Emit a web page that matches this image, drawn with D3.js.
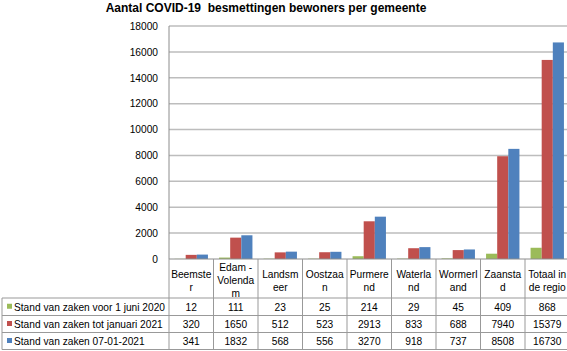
<!DOCTYPE html>
<html>
<head>
<meta charset="utf-8">
<script src="https://cdn.jsdelivr.net/npm/d3@7"></script>
<style>
  body { margin: 0; background: #fff; }
  text { font-family: "Liberation Sans", Arial, sans-serif; }
</style>
</head>
<body>
<svg id="chart"></svg>
<script>
const categories = ["Beemster", "Edam-Volendam", "Landsmeer", "Oostzaan", "Purmerend", "Waterland", "Wormerland", "Zaanstad", "Totaal in de regio"];
const categoryLines = [["Beemste", "r"], ["Edam -", "Volenda", "m"], ["Landsm", "eer"], ["Oostzaa", "n"], ["Purmere", "nd"], ["Waterla", "nd"], ["Wormerl", "and"], ["Zaansta", "d"], ["Totaal in", "de regio"]];
const seriesNames = ["Stand van zaken voor 1 juni 2020", "Stand van zaken tot januari 2021", "Stand van zaken 07-01-2021"];
const juni2020 = [12, 111, 23, 25, 214, 29, 45, 409, 868];
const totJan2021 = [320, 1650, 512, 523, 2913, 833, 688, 7940, 15379];
const jan07_2021 = [341, 1832, 568, 556, 3270, 918, 737, 8508, 16730];
const yTicks = [0, 2000, 4000, 6000, 8000, 10000, 12000, 14000, 16000, 18000];
const colors = ["#9bbb59", "#c0504d", "#4f81bd"];

const series = [juni2020, totJan2021, jan07_2021];
const W = 567, H = 351;
const plotLeft = 169, plotTop = 26, zeroY = 259, colW = 44.5;
const fs = "10.2px";

const svg = d3.select("#chart").attr("width", W).attr("height", H);

svg.append("text")
    .text("Aantal COVID-19  besmettingen bewoners per gemeente")
    .attr("x", 266).attr("y", 12)
    .attr("text-anchor", "middle")
    .style("white-space", "pre")
    .style("font-size", "12px")
    .style("font-weight", "bold");

let x = d3.scaleBand()
    .domain(categories)
    .range([plotLeft, plotLeft + colW * categories.length]);
let xs = d3.scaleBand()
    .domain(d3.range(series.length))
    .range([colW * 0.125, colW * 0.875]);
let y = d3.scaleLinear()
    .domain([0, 18000])
    .range([zeroY, plotTop]);

// gridlines
svg.append("g")
    .selectAll("line")
    .data(yTicks.slice(1))
    .enter().append("line")
    .attr("x1", plotLeft).attr("x2", W)
    .attr("y1", d => y(d)).attr("y2", d => y(d))
    .attr("stroke", "#bdbdbd")
    .attr("stroke-width", 1.5);

let yAxis = svg.append("g")
    .attr("transform", `translate(${plotLeft - 11}, 0)`)
    .call(d3.axisLeft(y).tickValues(yTicks).tickFormat(d3.format("d")).tickSize(0).tickPadding(0));
yAxis.select(".domain").remove();
yAxis.selectAll("text")
    .style("font-size", fs)
    .style("font-family", "Liberation Sans, Arial, sans-serif")
    .attr("fill", "#000");

svg.append("line")
    .attr("x1", plotLeft).attr("x2", plotLeft)
    .attr("y1", plotTop).attr("y2", zeroY)
    .attr("stroke", "#8c8c8c");

// bars
series.forEach((vals, si) => {
    svg.append("g")
        .selectAll("rect")
        .data(vals)
        .enter().append("rect")
        .attr("x", (d, i) => x(categories[i]) + xs(si))
        .attr("width", xs.bandwidth())
        .attr("y", d => y(d))
        .attr("height", d => y(0) - y(d))
        .attr("fill", colors[si]);
});

svg.append("line")
    .attr("x1", plotLeft).attr("x2", W)
    .attr("y1", zeroY).attr("y2", zeroY)
    .attr("stroke", "#8c8c8c");

// data table
const rowY = [298, 315.5, 332.5, 349.5];
const tableLine = "#999";
const tbl = svg.append("g");

tbl.selectAll(".hline")
    .data(rowY)
    .enter().append("line")
    .attr("x1", 2).attr("x2", W)
    .attr("y1", d => d).attr("y2", d => d)
    .attr("stroke", tableLine);

tbl.append("line")
    .attr("x1", 2).attr("x2", 2)
    .attr("y1", rowY[0]).attr("y2", rowY[3])
    .attr("stroke", tableLine);

tbl.selectAll(".vline")
    .data(categories)
    .enter().append("line")
    .attr("x1", d => x(d) + x.bandwidth()).attr("x2", d => x(d) + x.bandwidth())
    .attr("y1", zeroY).attr("y2", rowY[3])
    .attr("stroke", tableLine);
tbl.append("line")
    .attr("x1", plotLeft).attr("x2", plotLeft)
    .attr("y1", zeroY).attr("y2", rowY[3])
    .attr("stroke", tableLine);

// category headers
categories.forEach((c, i) => {
    let lines = categoryLines[i];
    let t = tbl.append("text")
        .attr("text-anchor", "middle")
        .style("font-size", fs);
    lines.forEach((ln, li) => {
        t.append("tspan")
            .attr("x", x(c) + x.bandwidth() / 2)
            .attr("y", 280 + (li - (lines.length - 1) / 2) * 13 + 4)
            .text(ln);
    });
});

// legend rows + values
series.forEach((vals, si) => {
    let cy = (rowY[si] + rowY[si + 1]) / 2;
    tbl.append("rect")
        .attr("x", 7).attr("y", cy - 3)
        .attr("width", 5).attr("height", 5)
        .attr("fill", colors[si]);
    tbl.append("text")
        .attr("class", "legend")
        .attr("x", 14).attr("y", cy + 4)
        .style("font-size", fs)
        .text(seriesNames[si]);
    tbl.selectAll(null)
        .data(vals)
        .enter().append("text")
        .attr("x", (d, i) => x(categories[i]) + x.bandwidth() / 2)
        .attr("y", cy + 4)
        .attr("text-anchor", "middle")
        .style("font-size", fs)
        .text(d => d);
});

// shrink legend labels so the longest fits its column like the original
let longest = d3.max(tbl.selectAll(".legend").nodes(), n => n.getComputedTextLength());
if (longest > 151) {
    tbl.selectAll(".legend").style("font-size", (10.2 * 151 / longest) + "px");
}
</script>
</body>
</html>
